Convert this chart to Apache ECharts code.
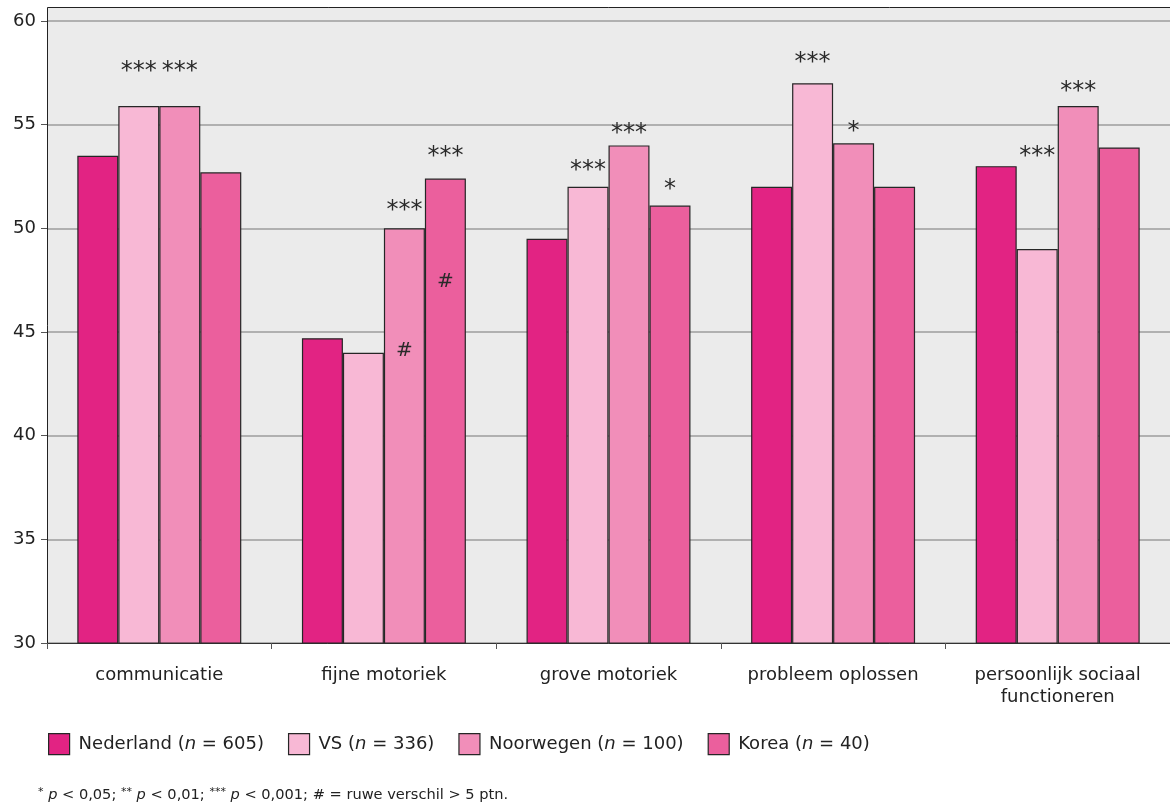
<!DOCTYPE html>
<html>
<head>
<meta charset="utf-8">
<script src="https://cdn.jsdelivr.net/npm/echarts@6/dist/echarts.min.js"></script>
<style>
  html, body { margin: 0; padding: 0; background: #fff; }
  #chart { width: 1170px; height: 807px; }
</style>
</head>
<body>
<div id="chart"></div>
<script>
// Domains of the developmental questionnaire
const categories = ['communicatie', 'fijne motoriek', 'grove motoriek', 'probleem oplossen', 'persoonlijk sociaal\nfunctioneren'];

// Mean scores per country
const countries = ['Nederland', 'VS', 'Noorwegen', 'Korea'];
const sampleSizes = [605, 336, 100, 40];
const nederland = [53.5, 44.7, 49.5, 52.0, 53.0];
const vs        = [55.9, 44.0, 52.0, 57.0, 49.0];
const noorwegen = [55.9, 50.0, 54.0, 54.1, 55.9];
const korea     = [52.7, 52.4, 51.1, 52.0, 53.9];

// Significance marks: [category index, country index, mark, score level of the mark]
const sigMarks = [
  [0, 1, '***', 57.8], [0, 2, '***', 57.8],
  [1, 2, '***', 51.1], [1, 3, '***', 53.7],
  [1, 2, '#', 44.1],   [1, 3, '#', 47.4],
  [2, 1, '***', 53.0], [2, 2, '***', 54.8], [2, 3, '*', 52.1],
  [3, 1, '***', 58.2], [3, 2, '*', 54.9],
  [4, 1, '***', 53.7], [4, 2, '***', 56.8]
];

const yTicks = { min: 30, max: 60, step: 5 };

const colors = ['#e22383', '#f8b8d5', '#f18eb9', '#eb5f9d'];
const FONT = 'DejaVu Sans';
const GAP = 0.27; // share of the category band left empty

const chart = echarts.init(document.getElementById('chart'), null, { renderer: 'canvas' });

const values = [nederland, vs, noorwegen, korea];
const barSeries = countries.map((name, i) => ({
  name: name,
  type: 'bar',
  data: values[i],
  barGap: '0%',
  barCategoryGap: (GAP * 100) + '%',
  itemStyle: { color: colors[i], borderColor: '#262626', borderWidth: 1.2 },
  emphasis: { disabled: true },
  z: 3
}));

const markSeries = {
  type: 'custom',
  data: sigMarks,
  z: 5,
  silent: true,
  encode: { x: 0, y: 3 },
  renderItem: function (params, api) {
    const cat = api.value(0);
    const idx = api.value(1);
    const mark = sigMarks[params.dataIndex][2];
    const level = api.value(3);
    const band = api.size([1, 0])[0];
    const barW = band * (1 - GAP) / countries.length;
    const p = api.coord([cat, level]);
    const x = p[0] + (idx - (countries.length - 1) / 2) * barW;
    const isStar = mark !== '#';
    const size = isStar ? 24 : 20;
    return {
      type: 'text',
      x: x,
      // the asterisk glyph sits high in its em box, so it is nudged down to centre it
      y: p[1] + (isStar ? size * 0.2 : 0),
      style: {
        text: mark,
        fontFamily: FONT,
        fontSize: size,
        fill: '#2a2a2a',
        align: 'center',
        verticalAlign: 'middle'
      }
    };
  }
};

const option = {
  backgroundColor: '#ffffff',
  animation: false,
  grid: { left: 47, right: 0, top: 21, bottom: 164, containLabel: false },
  graphic: [
    {
      type: 'rect',
      shape: { x: 47, y: 7, width: 1123, height: 636 },
      style: { fill: '#ebebeb' },
      z: -10, silent: true
    },
    {
      type: 'polyline',
      shape: { points: [[47.5, 643], [47.5, 7.5], [1170, 7.5]] },
      style: { stroke: '#222', lineWidth: 1, fill: null },
      z: 10, silent: true
    },
    {
      type: 'text',
      left: 38,
      top: 787,
      style: {
        text: '{s|*} {i|p} < 0,05; {s|**} {i|p} < 0,01; {s|***} {i|p} < 0,001; # = ruwe verschil > 5 ptn.',
        fontFamily: FONT,
        fontSize: 14.6,
        fill: '#222',
        rich: {
          s: { fontFamily: FONT, fontSize: 11, verticalAlign: 'top', fill: '#222', padding: [0, 0, 6, 0] },
          i: { fontFamily: FONT, fontSize: 14.6, fontStyle: 'italic', fill: '#222' }
        }
      }
    }
  ],
  legend: {
    left: 48,
    top: 733,
    padding: 0,
    itemWidth: 21,
    itemHeight: 21,
    itemGap: 24,
    icon: 'rect',
    selectedMode: false,
    data: countries,
    itemStyle: { borderColor: '#262626', borderWidth: 1.2 },
    formatter: function (name) {
      const n = sampleSizes[countries.indexOf(name)];
      return name + ' ({i|n} = ' + n + ')';
    },
    textStyle: {
      fontFamily: FONT,
      fontSize: 18,
      color: '#222',
      padding: [0, 0, 0, 4],
      rich: {
        i: { fontFamily: FONT, fontSize: 18, fontStyle: 'italic', color: '#222' }
      }
    }
  },
  xAxis: {
    type: 'category',
    data: categories,
    axisLine: { show: true, lineStyle: { color: '#333', width: 1 } },
    axisTick: { show: true, length: 6, lineStyle: { color: '#555' } },
    axisLabel: {
      fontFamily: FONT, fontSize: 18, color: '#222', margin: 21, lineHeight: 22
    },
    splitLine: { show: false }
  },
  yAxis: {
    type: 'value',
    min: yTicks.min,
    max: yTicks.max,
    interval: yTicks.step,
    axisLine: { show: false },
    axisTick: { show: true, length: 6, lineStyle: { color: '#555' } },
    axisLabel: { fontFamily: FONT, fontSize: 18, color: '#222', margin: 11 },
    splitLine: { show: true, lineStyle: { color: '#9c9c9c', width: 1.5 } }
  },
  series: barSeries.concat([markSeries])
};

chart.setOption(option);
</script>
</body>
</html>
